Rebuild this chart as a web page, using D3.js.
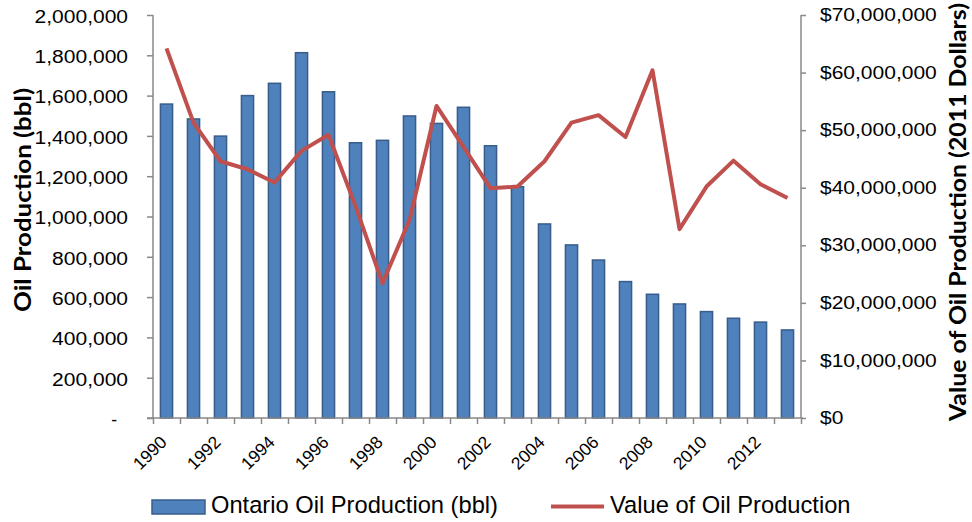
<!DOCTYPE html>
<html>
<head>
<meta charset="utf-8">
<script src="https://cdn.jsdelivr.net/npm/d3@7"></script>
<style>
  html, body { margin: 0; padding: 0; background: #fff; }
  svg { display: block; }
  text { font-family: "Liberation Sans", Arial, sans-serif; fill: #000; }
</style>
</head>
<body>
<svg id="chart" width="972" height="522"></svg>
<script>
const years = [1990,1991,1992,1993,1994,1995,1996,1997,1998,1999,2000,2001,2002,2003,2004,2005,2006,2007,2008,2009,2010,2011,2012,2013];
const production = [1558000,1484000,1399000,1600000,1661000,1813000,1619000,1366000,1378000,1499000,1462000,1542000,1351000,1148000,963000,859000,784000,677000,614000,566000,528000,495000,476000,437000];
const valueDollars = [64200000,51300000,44600000,43200000,40900000,46400000,49200000,36800000,23400000,34400000,54200000,47100000,39900000,40200000,44600000,51300000,52600000,48800000,60400000,32800000,40200000,44700000,40600000,38200000];
const leftTicks = [0,200000,400000,600000,800000,1000000,1200000,1400000,1600000,1800000,2000000];
const rightTicks = [0,10000000,20000000,30000000,40000000,50000000,60000000,70000000];
const labelYears = [1990,1992,1994,1996,1998,2000,2002,2004,2006,2008,2010,2012];
const seriesNames = ["Ontario Oil Production (bbl)", "Value of Oil Production"];
const leftTitle = "Oil Production  (bbl)";
const rightTitle = "Value of Oil Production (2011 Dollars)";

const svg = d3.select("#chart");
const L = 153, R = 801, T = 15, B = 418;
const axisColor = "#898989";
const barFill = "#4F81BD", barStroke = "#385D8A", lineColor = "#C0504D";

const x = d3.scaleBand().domain(years).range([L, R]).paddingInner(0.55).paddingOuter(0.275);
const xb = d3.scaleLinear().domain([0, years.length]).range([L, R]);
const yL = d3.scaleLinear().domain([0, 2000000]).range([B, T]);
const yR = d3.scaleLinear().domain([0, 70000000]).range([B, T]);

function stretch(sel, k) {
  sel.each(function() {
    const w = this.getComputedTextLength();
    d3.select(this).attr("textLength", w * k).attr("lengthAdjust", "spacingAndGlyphs");
  });
}

// bars
svg.append("g").selectAll("rect").data(years).join("rect")
  .attr("x", d => x(d))
  .attr("y", (d, i) => yL(production[i]))
  .attr("width", x.bandwidth())
  .attr("height", (d, i) => B - yL(production[i]))
  .attr("fill", barFill)
  .attr("stroke", barStroke)
  .attr("stroke-width", 1.5);

// line
const line = d3.line()
  .x((d, i) => x(years[i]) + x.bandwidth() / 2)
  .y(d => yR(d));
svg.append("path").datum(valueDollars)
  .attr("d", line)
  .attr("fill", "none")
  .attr("stroke", lineColor)
  .attr("stroke-width", 4)
  .attr("stroke-linejoin", "round");

// left axis
const gL = svg.append("g").attr("transform", `translate(${L},0)`)
  .call(d3.axisLeft(yL).tickValues(leftTicks).tickSize(6).tickPadding(19)
    .tickFormat(d => d === 0 ? "-" : d3.format(",")(d)));
gL.selectAll("text").style("font-size", "17.5px").attr("dy", "0.42em");
stretch(gL.selectAll(".tick text").filter(d => d !== 0), 1.2);
gL.selectAll(".tick text").filter(d => d === 0).attr("x", -36);

// right axis
const gR = svg.append("g").attr("transform", `translate(${R},0)`)
  .call(d3.axisRight(yR).tickValues(rightTicks).tickSize(5).tickPadding(14)
    .tickFormat(d3.format("$,")));
gR.selectAll("text").style("font-size", "17.5px").attr("dy", "0.32em");
stretch(gR.selectAll(".tick text"), 1.2);

// bottom axis (category boundaries)
const gB = svg.append("g").attr("transform", `translate(0,${B})`)
  .call(d3.axisBottom(xb).tickValues(d3.range(years.length + 1)).tickSize(6).tickFormat(""));

[gL, gR, gB].forEach(g => {
  g.select(".domain").attr("stroke", axisColor).attr("stroke-width", 1.5);
  g.selectAll(".tick line").attr("stroke", axisColor).attr("stroke-width", 1.5);
});
gL.select(".domain").attr("d", `M0,${T}V${B}`);
gR.select(".domain").attr("d", `M0,${T}V${B}`);
gB.select(".domain").attr("d", `M${L - 6},0H${R + 2}`);

// x labels
svg.append("g").selectAll("text").data(labelYears).join("text")
  .attr("text-anchor", "end")
  .attr("dy", "0.35em")
  .attr("transform", d => `translate(${x(d) + x.bandwidth() / 2 - 3},439) rotate(-45)`)
  .style("font-size", "17.5px")
  .text(d => d);

// axis titles
svg.append("text")
  .attr("transform", "translate(31,200) rotate(-90)")
  .attr("text-anchor", "middle")
  .style("font-family", "Lato, 'Open Sans', sans-serif")
  .style("font-weight", "bold")
  .style("font-size", "22px")
  .attr("textLength", 224).attr("lengthAdjust", "spacingAndGlyphs")
  .text(leftTitle);

svg.append("text")
  .attr("transform", "translate(966,212) rotate(-90)")
  .attr("text-anchor", "middle")
  .style("font-family", "Lato, 'Open Sans', sans-serif")
  .style("font-weight", "bold")
  .style("font-size", "22px")
  .attr("textLength", 418).attr("lengthAdjust", "spacingAndGlyphs")
  .text(rightTitle);

// legend
const lg = svg.append("g");
lg.append("rect").attr("x", 152).attr("y", 500).attr("width", 53).attr("height", 14)
  .attr("fill", barFill).attr("stroke", barStroke).attr("stroke-width", 1.5);
lg.append("text").attr("x", 211).attr("y", 513).style("font-size", "23.7px").text(seriesNames[0]);
lg.append("line").attr("x1", 551).attr("x2", 604).attr("y1", 506.5).attr("y2", 506.5)
  .attr("stroke", lineColor).attr("stroke-width", 4);
lg.append("text").attr("x", 610).attr("y", 513).style("font-size", "23.7px").text(seriesNames[1]);
</script>
</body>
</html>
